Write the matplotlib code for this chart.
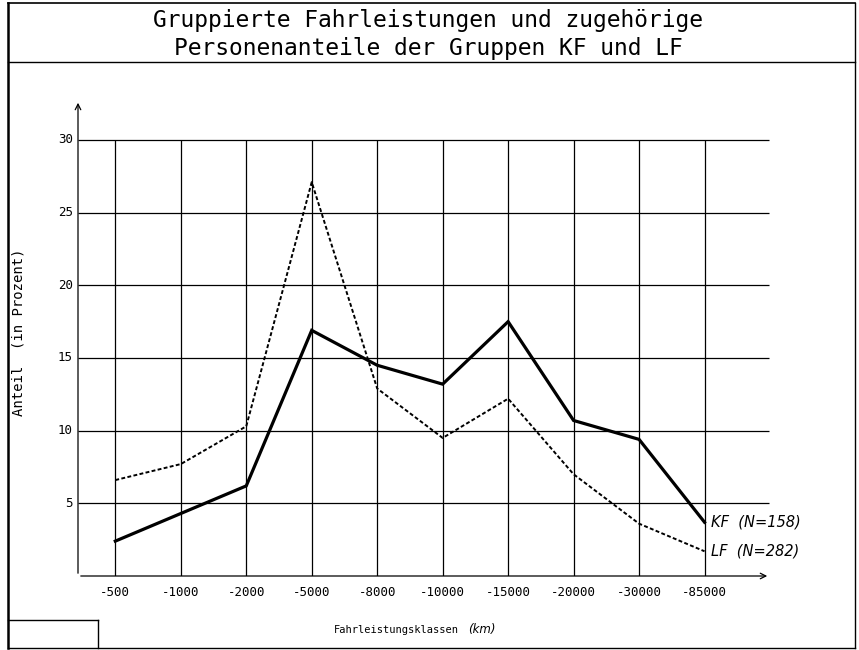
import matplotlib.pyplot as plt
from matplotlib.lines import Line2D

# Fahrleistungsklassen (km) and Personenanteile (%)
klassen = ['-500', '-1000', '-2000', '-5000', '-8000', '-10000',
           '-15000', '-20000', '-30000', '-85000']
kf = [2.4, 4.3, 6.2, 16.9, 14.5, 13.2, 17.5, 10.7, 9.4, 3.7]
lf = [6.6, 7.7, 10.3, 27.1, 12.9, 9.5, 12.2, 7.0, 3.6, 1.7]
y_ticks = [5, 10, 15, 20, 25, 30]
y_ticklabels = ['5', '10', '15', '20', '25', '30']

W, H = 859, 650
fig = plt.figure(figsize=(W / 100, H / 100), dpi=100)

def fx(px):
    return px / W

def fy(py):
    return 1 - py / H

# axes: y-axis at x=78px, x-axis at y=576px
ax = fig.add_axes([fx(78), fy(576), fx(770) - fx(78), fy(100) - fy(576)])
x = list(range(len(klassen)))
xmin, xmax = -0.57, 10.0
ax.set_xlim(xmin, xmax)
ax.set_ylim(0, 32.75)
for s in ax.spines.values():
    s.set_visible(False)
ax.set_xticks([])
ax.set_yticks([])

# grid
ax.hlines(y_ticks, xmin, 9.98, color='black', lw=0.9)
ax.vlines(x, 0, 30, color='black', lw=0.9)

# axes with arrows
ax.annotate('', xy=(xmax, 0), xytext=(xmin, 0),
            arrowprops=dict(arrowstyle='->', lw=0.9, color='black'),
            annotation_clip=False)
ax.annotate('', xy=(xmin, 32.75), xytext=(xmin, 0),
            arrowprops=dict(arrowstyle='->', lw=0.9, color='black'),
            annotation_clip=False)

ax.plot(x, kf, color='black', lw=2.3, solid_joinstyle='miter')
ax.plot(x, lf, color='black', lw=1.4, linestyle=(0, (2.0, 1.2)))

mono = 'DejaVu Sans Mono'
for xi, lab in zip(x, klassen):
    ax.text(xi, -0.7, lab, ha='center', va='top', fontsize=9, family=mono)
for yt, lab in zip(y_ticks, y_ticklabels):
    ax.text(xmin - 0.08, yt, lab, ha='right', va='center', fontsize=9,
            family=mono)

ax.text(9.1, kf[-1], 'KF  (N=158)', ha='left', va='center', fontsize=10.5,
        style='italic')
ax.text(9.1, lf[-1], 'LF  (N=282)', ha='left', va='center', fontsize=10.5,
        style='italic')

# titles and axis labels
fig.text(fx(428), fy(20), 'Gruppierte Fahrleistungen und zugehörige',
         ha='center', va='center', fontsize=16.5, family=mono)
fig.text(fx(428), fy(48), 'Personenanteile der Gruppen KF und LF',
         ha='center', va='center', fontsize=16.5, family=mono)
fig.text(fx(396), fy(630), 'Fahrleistungsklassen', ha='center', va='center',
         fontsize=7.5, family=mono)
fig.text(fx(468), fy(629), '(km)', ha='left', va='center', fontsize=8.5,
         style='italic')
fig.text(fx(19), fy(332), 'Anteil  (in Prozent)', ha='center', va='center',
         rotation=90, fontsize=10, family=mono)

# frame
lines = [
    ((8, 8), (3, 648), 1.8),
    ((8, 855), (3, 3), 1.2),
    ((855, 855), (3, 648), 1.0),
    ((8, 855), (648, 648), 1.0),
    ((8, 855), (62, 62), 1.0),
    ((8, 98), (620, 620), 1.0),
    ((98, 98), (620, 648), 1.0),
]
for (x0, x1), (y0, y1), w in lines:
    fig.add_artist(Line2D([fx(x0), fx(x1)], [fy(y0), fy(y1)],
                          transform=fig.transFigure, color='black', lw=w))

fig.savefig('out.png', dpi=100)
